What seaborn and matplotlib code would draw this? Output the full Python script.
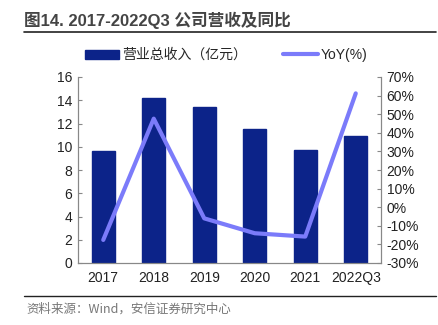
import matplotlib
matplotlib.use("Agg")
import matplotlib.pyplot as plt
import seaborn as sns
import numpy as np
import pandas as pd
from matplotlib.patches import Patch
from matplotlib.lines import Line2D

categories = ["2017", "2018", "2019", "2020", "2021", "2022Q3"]
revenue = [9.66, 14.22, 13.42, 11.53, 9.72, 10.92]
yoy = [-17.6, 47.6, -6.0, -14.0, -15.8, 61.2]
left_ticks = [0, 2, 4, 6, 8, 10, 12, 14, 16]
right_ticks = [-30, -20, -10, 0, 10, 20, 30, 40, 50, 60, 70]

sns.set_theme(style="white")
plt.rcParams['font.family'] = ['Liberation Sans', 'Noto Sans CJK SC', 'DejaVu Sans']

bar_color = "#0c2389"
line_color = "#7b7bfa"
axis_color = "#888888"
text_color = "#222222"

fig = plt.figure(figsize=(4.39, 3.25), dpi=100)
ax = fig.add_axes([78/439, 1-263/325, 303/439, 186/325])

df = pd.DataFrame({"cat": categories, "rev": revenue, "yoy": yoy})
sns.barplot(data=df, x="cat", y="rev", color=bar_color, width=0.46, ax=ax,
            saturation=1, edgecolor=bar_color)
ax.set_xlim(-0.5, 5.5)
ax.set_ylim(0, 16)
ax.set_yticks(left_ticks)
ax.set_xlabel("")
ax.set_ylabel("")

ax2 = ax.twinx()
sns.lineplot(x=np.arange(len(categories)), y=df["yoy"], color=line_color, lw=3, ax=ax2)
ax2.set_ylim(-30, 70)
ax2.set_yticks(right_ticks)
ax2.set_yticklabels([f"{t}%" for t in right_ticks])
ax2.set_ylabel("")
ax2.set_xlim(-0.5, 5.5)

for a in (ax, ax2):
    for s in ["top"]:
        a.spines[s].set_visible(False)
    for s in ["left", "right", "bottom"]:
        a.spines[s].set_color(axis_color)
        a.spines[s].set_linewidth(0.8)
    a.tick_params(axis="y", colors=axis_color, labelcolor=text_color, labelsize=10,
                  length=3, width=0.8, direction="in", pad=4)

ax.set_xticks(np.arange(len(categories)))
ax.set_xticklabels(categories)
ax.set_xticks(np.arange(-0.5, 6.0, 1.0), minor=True)
ax.tick_params(axis="x", which="major", length=0, labelsize=10, labelcolor=text_color, pad=6)
ax.tick_params(axis="x", which="minor", length=4, width=0.8, color=axis_color, direction="in")

handles = [Patch(facecolor=bar_color, edgecolor=bar_color),
           Line2D([0], [0], color=line_color, lw=3)]
fig.legend(handles, ["营业总收入（亿元）", "YoY(%)"], loc="center", bbox_to_anchor=(0.515, 1-55/325),
           ncol=2, frameon=False, handlelength=2.5, handleheight=0.6,
           columnspacing=2.6, handletextpad=0.2,
           prop={'family': ['Liberation Sans', 'Noto Sans CJK SC'], 'size': 10})

fig.text(24/439, 1-20/325, "图14. 2017-2022Q3 公司营收及同比", fontsize=12, fontweight="bold",
         color="#444444", va="center", ha="left",
         family=['Liberation Sans', 'Noto Sans CJK SC'])
fig.add_artist(Line2D([24/439, 436/439], [1-32/325, 1-32/325], color="#222222", lw=1.2))
fig.add_artist(Line2D([24/439, 436/439], [1-296/325, 1-296/325], color="#222222", lw=1.0))
fig.text(26/439, 1-309/325, "资料来源：Wind，安信证券研究中心", fontsize=9, style="italic",
         color="#777777", va="center", ha="left",
         family=['Noto Sans CJK SC', 'DejaVu Sans'])

fig.savefig("out.png", dpi=100)
